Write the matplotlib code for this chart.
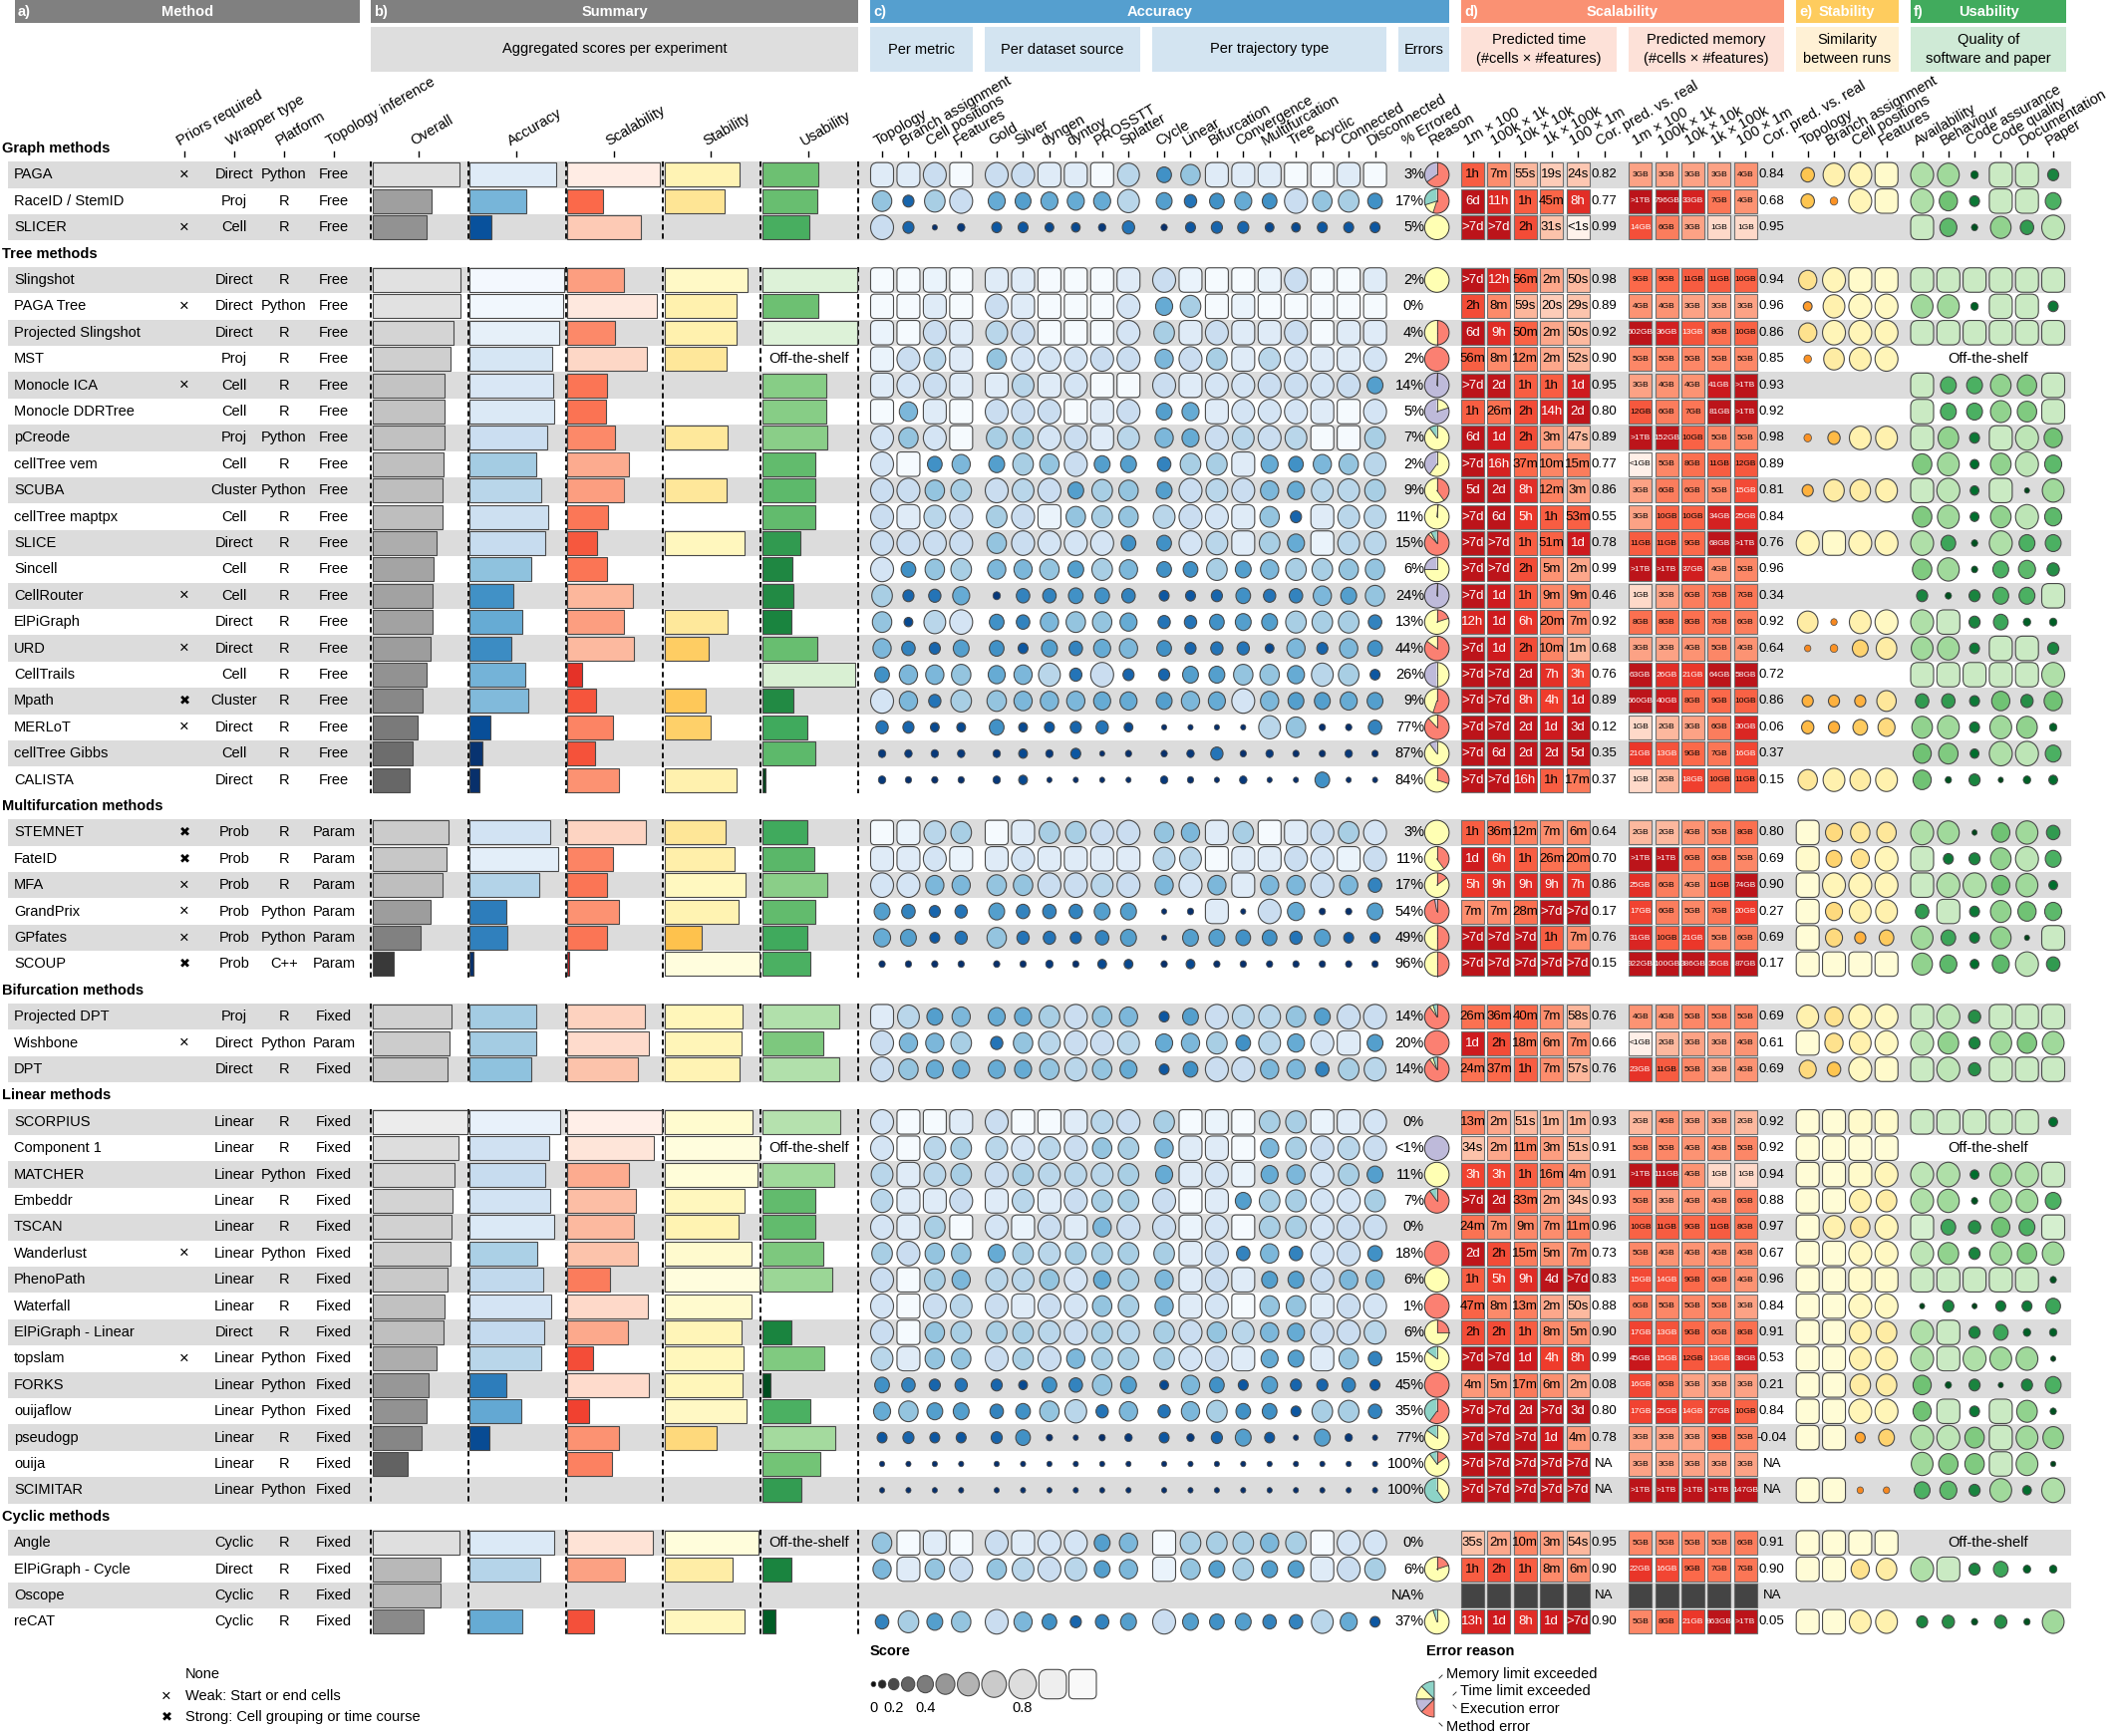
import numpy as np
import matplotlib
matplotlib.use("Agg")
import matplotlib.pyplot as plt
from matplotlib.patches import Rectangle, Ellipse, FancyBboxPatch, Wedge

plt.rcParams['font.family'] = ['Liberation Sans', 'DejaVu Sans']

# ---------------- data ----------------
group_names = ["Graph methods", "Tree methods", "Multifurcation methods",
               "Bifurcation methods", "Linear methods", "Cyclic methods"]
group_sizes = [3, 20, 6, 3, 15, 4]

methods = ["PAGA", "RaceID / StemID", "SLICER",
           "Slingshot", "PAGA Tree", "Projected Slingshot", "MST", "Monocle ICA",
           "Monocle DDRTree", "pCreode", "cellTree vem", "SCUBA", "cellTree maptpx",
           "SLICE", "Sincell", "CellRouter", "ElPiGraph", "URD", "CellTrails", "Mpath",
           "MERLoT", "cellTree Gibbs", "CALISTA",
           "STEMNET", "FateID", "MFA", "GrandPrix", "GPfates", "SCOUP",
           "Projected DPT", "Wishbone", "DPT",
           "SCORPIUS", "Component 1", "MATCHER", "Embeddr", "TSCAN", "Wanderlust",
           "PhenoPath", "Waterfall", "ElPiGraph - Linear", "topslam", "FORKS",
           "ouijaflow", "pseudogp", "ouija", "SCIMITAR",
           "Angle", "ElPiGraph - Cycle", "Oscope", "reCAT"]

# "" none, "w" weak, "s" strong
priors = ["w", "", "w",
          "", "w", "", "", "w", "", "", "", "", "", "", "", "w", "", "w", "", "s", "w", "", "",
          "s", "s", "w", "w", "w", "s",
          "", "w", "",
          "", "", "", "", "", "w", "", "", "", "w", "", "", "", "", "",
          "", "", "", ""]
wrappers = ["Direct", "Proj", "Cell",
            "Direct", "Direct", "Direct", "Proj", "Cell", "Cell", "Proj", "Cell", "Cluster",
            "Cell", "Direct", "Cell", "Cell", "Direct", "Direct", "Cell", "Cluster", "Direct",
            "Cell", "Direct",
            "Prob", "Prob", "Prob", "Prob", "Prob", "Prob",
            "Proj", "Direct", "Direct",
            "Linear", "Linear", "Linear", "Linear", "Linear", "Linear", "Linear", "Linear",
            "Direct", "Linear", "Linear", "Linear", "Linear", "Linear", "Linear",
            "Cyclic", "Direct", "Cyclic", "Cyclic"]
platforms = ["Python", "R", "R",
             "R", "Python", "R", "R", "R", "R", "Python", "R", "Python", "R", "R", "R", "R",
             "R", "R", "R", "R", "R", "R", "R",
             "R", "R", "R", "Python", "Python", "C++",
             "R", "Python", "R",
             "R", "R", "Python", "R", "R", "Python", "R", "R", "R", "Python", "Python",
             "Python", "R", "R", "Python",
             "R", "R", "R", "R"]
topology = (["Free"] * 23 + ["Param"] * 6 + ["Fixed", "Param", "Fixed"] + ["Fixed"] * 15
            + ["Fixed"] * 4)

# summary scores (None = missing, "off" = off-the-shelf)
sum_overall = [0.91, 0.62, 0.57,
               0.92, 0.92, 0.85, 0.82, 0.76, 0.76, 0.75, 0.74, 0.73, 0.73, 0.67, 0.64, 0.63,
               0.63, 0.61, 0.57, 0.53, 0.47, 0.42, 0.39,
               0.80, 0.78, 0.73, 0.61, 0.50, 0.22,
               0.83, 0.81, 0.79,
               0.99, 0.90, 0.86, 0.84, 0.83, 0.82, 0.79, 0.75, 0.74, 0.67, 0.59, 0.57, 0.52,
               0.37, None,
               0.91, 0.71, 0.71, 0.54]
sum_accuracy = [0.90, 0.59, 0.23,
                0.99, 0.98, 0.93, 0.86, 0.87, 0.88, 0.81, 0.69, 0.75, 0.82, 0.79, 0.64, 0.45,
                0.55, 0.43, 0.58, 0.61, 0.22, 0.13, 0.10,
                0.84, 0.92, 0.73, 0.38, 0.39, 0.04,
                0.69, 0.69, 0.64,
                0.94, 0.83, 0.79, 0.84, 0.88, 0.71, 0.77, 0.85, 0.78, 0.75, 0.38, 0.54, 0.21,
                None, None,
                0.88, 0.74, None, 0.55]
sum_scalability = [0.97, 0.37, 0.77,
                   0.59, 0.94, 0.50, 0.83, 0.42, 0.41, 0.50, 0.64, 0.59, 0.43, 0.31, 0.42,
                   0.69, 0.59, 0.70, 0.16, 0.30, 0.48, 0.29, 0.54,
                   0.82, 0.48, 0.42, 0.54, 0.42, 0.02,
                   0.81, 0.85, 0.74,
                   0.99, 0.91, 0.64, 0.72, 0.70, 0.74, 0.45, 0.84, 0.63, 0.27, 0.85, 0.23,
                   0.54, 0.47, None,
                   0.89, 0.60, None, 0.28]
sum_stability = [0.78, 0.63, None,
                 0.87, 0.75, 0.75, 0.65, None, None, 0.66, None, 0.65, None, 0.83, None,
                 None, 0.66, 0.46, None, 0.43, 0.48, None, 0.75,
                 0.64, 0.73, 0.84, 0.77, 0.39, 0.99,
                 0.81, 0.80, 0.78,
                 0.92, 0.99, 0.97, 0.83, 0.77, 0.91, 0.99, 0.91, 0.80, 0.82, 0.81, 0.86,
                 0.54, None, None,
                 0.98, 0.71, None, 0.83]
sum_usability = [0.59, 0.58, 0.49,
                 0.99, 0.59, 0.99, "off", 0.67, 0.67, 0.68, 0.56, 0.55, 0.56, 0.40, 0.32,
                 0.33, 0.30, 0.58, 0.97, 0.33, 0.47, 0.55, 0.03,
                 0.47, 0.54, 0.68, 0.56, 0.47, 0.50,
                 0.81, 0.64, 0.81,
                 0.82, "off", 0.75, 0.56, 0.56, 0.64, 0.73, 0.0, 0.30, 0.65, 0.09, 0.50,
                 0.76, 0.61, 0.41,
                 "off", 0.30, None, 0.14]

# accuracy per metric: topology, branch assignment, cell positions, features
acc_metric = [[0.9, 0.9, 0.8, 1.0], [0.65, 0.3, 0.7, 0.8], [0.8, 0.3, 0.05, 0.15],
              [1.0, 1.0, 0.95, 1.0], [1.0, 1.0, 0.9, 1.0], [0.95, 1.0, 0.8, 0.9],
              [0.95, 0.8, 0.75, 0.9], [0.9, 0.85, 0.8, 0.9], [1.0, 0.6, 0.9, 1.0],
              [0.85, 0.65, 0.85, 1.0], [0.85, 1.0, 0.45, 0.6], [0.8, 0.8, 0.65, 0.7],
              [0.8, 0.9, 0.75, 0.8], [0.8, 0.8, 0.8, 0.8], [0.85, 0.45, 0.65, 0.7],
              [0.7, 0.3, 0.35, 0.55], [0.65, 0.2, 0.75, 0.85], [0.6, 0.4, 0.3, 0.5],
              [0.45, 0.6, 0.6, 0.65], [0.85, 0.6, 0.35, 0.7], [0.35, 0.3, 0.2, 0.2],
              [0.15, 0.15, 0.15, 0.15], [0.15, 0.1, 0.1, 0.1],
              [1.0, 0.95, 0.75, 0.7], [0.9, 0.9, 0.85, 0.95], [0.85, 0.85, 0.6, 0.6],
              [0.5, 0.4, 0.3, 0.35], [0.55, 0.5, 0.25, 0.35], [0.1, 0.1, 0.1, 0.1],
              [0.9, 0.75, 0.5, 0.6], [0.8, 0.6, 0.6, 0.7], [0.8, 0.65, 0.55, 0.55],
              [0.85, 1.0, 1.0, 0.9], [0.85, 1.0, 0.75, 0.7], [0.75, 0.9, 0.75, 0.7],
              [0.75, 0.9, 0.9, 0.8], [0.85, 0.9, 0.7, 1.0], [0.7, 0.8, 0.65, 0.65],
              [0.8, 1.0, 0.7, 0.6], [0.85, 1.0, 0.8, 0.75], [0.8, 1.0, 0.65, 0.7],
              [0.75, 0.9, 0.65, 0.65], [0.45, 0.4, 0.3, 0.35], [0.55, 0.65, 0.5, 0.5],
              [0.25, 0.3, 0.25, 0.25], [0.05, 0.05, 0.05, 0.05], [0.05, 0.05, 0.05, 0.05],
              [0.65, 1.0, 0.9, 1.0], [0.6, 0.9, 0.65, 0.8], None, [0.4, 0.7, 0.5, 0.65]]

# accuracy per dataset source: gold, silver, dyngen, dyntoy, PROSSTT, Splatter
acc_source = [[0.8, 0.8, 0.9, 0.9, 1.0, 0.75], [0.55, 0.5, 0.55, 0.55, 0.55, 0.75],
              [0.25, 0.25, 0.2, 0.2, 0.15, 0.35],
              [0.9, 0.9, 1.0, 1.0, 1.0, 0.9], [0.8, 0.9, 1.0, 1.0, 1.0, 0.85],
              [0.75, 0.8, 1.0, 1.0, 1.0, 0.85], [0.65, 0.85, 0.85, 0.85, 0.8, 0.8],
              [0.9, 0.75, 0.9, 0.85, 1.0, 1.0], [0.8, 0.8, 0.8, 1.0, 0.9, 0.8],
              [0.7, 0.7, 0.85, 0.8, 0.9, 0.75], [0.5, 0.7, 0.65, 0.8, 0.5, 0.5],
              [0.8, 0.75, 0.8, 0.5, 0.7, 0.65], [0.7, 0.8, 0.95, 0.65, 0.7, 0.65],
              [0.65, 0.8, 0.85, 0.85, 0.85, 0.45], [0.6, 0.6, 0.65, 0.5, 0.7, 0.6],
              [0.15, 0.4, 0.4, 0.45, 0.45, 0.4], [0.45, 0.4, 0.6, 0.65, 0.65, 0.55],
              [0.45, 0.25, 0.5, 0.4, 0.55, 0.6], [0.55, 0.6, 0.75, 0.35, 0.8, 0.3],
              [0.65, 0.6, 0.6, 0.6, 0.55, 0.55], [0.45, 0.2, 0.25, 0.3, 0.35, 0.2],
              [0.15, 0.2, 0.15, 0.25, 0.05, 0.1], [0.15, 0.2, 0.05, 0.05, 0.05, 0.05],
              [1.0, 0.9, 0.7, 0.7, 0.8, 0.8], [0.9, 0.85, 0.9, 0.9, 0.9, 0.9],
              [0.65, 0.65, 0.8, 0.8, 0.75, 0.8], [0.5, 0.4, 0.4, 0.4, 0.5, 0.5],
              [0.65, 0.35, 0.35, 0.3, 0.4, 0.5], [0.1, 0.1, 0.15, 0.1, 0.2, 0.2],
              [0.55, 0.55, 0.7, 0.8, 0.65, 0.6], [0.35, 0.65, 0.75, 0.8, 0.8, 0.75],
              [0.55, 0.55, 0.65, 0.75, 0.65, 0.55],
              [0.8, 1.0, 1.0, 0.9, 0.75, 0.8], [0.75, 0.85, 0.75, 0.8, 0.65, 0.7],
              [0.8, 0.7, 0.75, 0.75, 0.75, 0.7], [0.9, 0.75, 0.9, 0.8, 0.7, 0.7],
              [0.85, 0.95, 0.8, 0.9, 0.6, 0.8], [0.55, 0.7, 0.75, 0.7, 0.7, 0.7],
              [0.75, 0.75, 0.65, 0.85, 0.55, 0.7], [0.8, 0.9, 0.8, 0.85, 0.65, 0.7],
              [0.7, 0.7, 0.75, 0.8, 0.7, 0.75], [0.8, 0.7, 0.8, 0.6, 0.7, 0.7],
              [0.3, 0.2, 0.45, 0.4, 0.65, 0.5], [0.4, 0.45, 0.65, 0.75, 0.35, 0.6],
              [0.3, 0.45, 0.1, 0.05, 0.1, 0.15], [0.05] * 6, [0.05] * 6,
              [0.8, 0.9, 0.85, 0.85, 0.5, 0.6], [0.65, 0.75, 0.8, 0.75, 0.5, 0.6], None,
              [0.8, 0.6, 0.45, 0.3, 0.4, 0.5]]

# accuracy per trajectory type
acc_traj = [[0.45, 0.65, 0.9, 0.9, 0.9, 1.0, 1.0, 0.9, 1.0],
            [0.5, 0.35, 0.45, 0.55, 0.45, 0.8, 0.65, 0.7, 0.45],
            [0.1, 0.25, 0.3, 0.3, 0.2, 0.2, 0.25, 0.25, 0.25],
            [0.8, 0.95, 1.0, 1.0, 0.95, 0.8, 1.0, 1.0, 0.9],
            [0.55, 0.7, 1.0, 0.95, 1.0, 1.0, 1.0, 1.0, 1.0],
            [0.7, 0.9, 0.8, 0.9, 0.9, 0.8, 1.0, 0.9, 0.9],
            [0.6, 0.8, 0.7, 0.9, 0.75, 0.85, 0.9, 0.9, 0.85],
            [0.8, 0.9, 0.85, 0.85, 0.8, 0.8, 0.85, 0.8, 0.5],
            [0.5, 0.55, 0.9, 0.85, 0.85, 0.85, 0.9, 1.0, 0.85],
            [0.6, 0.55, 0.8, 0.75, 0.8, 0.75, 1.0, 1.0, 0.7],
            [0.4, 0.7, 0.7, 0.9, 0.55, 0.45, 0.6, 0.65, 0.75],
            [0.5, 0.8, 0.75, 0.8, 0.6, 0.55, 0.75, 0.75, 0.7],
            [0.75, 0.8, 0.85, 0.9, 0.65, 0.3, 0.9, 0.75, 0.75],
            [0.45, 0.85, 0.75, 0.9, 0.7, 0.55, 0.95, 0.75, 0.75],
            [0.45, 0.45, 0.7, 0.5, 0.6, 0.7, 0.7, 0.65, 0.65],
            [0.25, 0.25, 0.3, 0.45, 0.35, 0.4, 0.6, 0.5, 0.65],
            [0.35, 0.35, 0.45, 0.5, 0.5, 0.7, 0.7, 0.7, 0.4],
            [0.45, 0.3, 0.35, 0.35, 0.2, 0.6, 0.3, 0.6, 0.45],
            [0.3, 0.5, 0.5, 0.65, 0.65, 0.55, 0.75, 0.7, 0.25],
            [0.5, 0.6, 0.55, 0.85, 0.6, 0.5, 0.5, 0.55, 0.5],
            [0.05, 0.05, 0.05, 0.05, 0.75, 0.65, 0.1, 0.1, 0.4],
            [0.1, 0.15, 0.35, 0.1, 0.15, 0.1, 0.1, 0.15, 0.1],
            [0.15, 0.1, 0.05, 0.15, 0.05, 0.05, 0.45, 0.05, 0.05],
            [0.65, 0.6, 0.9, 0.7, 1.0, 0.9, 0.8, 0.7, 0.85],
            [0.75, 0.75, 1.0, 0.9, 0.9, 0.8, 0.85, 0.95, 0.8],
            [0.6, 0.85, 0.6, 0.9, 0.6, 0.6, 0.8, 0.6, 0.4],
            [0.05, 0.1, 0.9, 0.05, 0.8, 0.55, 0.1, 0.1, 0.5],
            [0.05, 0.5, 0.5, 0.45, 0.45, 0.35, 0.5, 0.25, 0.25],
            [0.1, 0.2, 0.1, 0.1, 0.1, 0.1, 0.1, 0.1, 0.1],
            [0.25, 0.5, 0.8, 0.75, 0.75, 0.65, 0.5, 0.8, 0.8],
            [0.55, 0.6, 0.7, 0.45, 0.75, 0.55, 0.85, 0.9, 0.5],
            [0.25, 0.45, 0.8, 0.8, 0.6, 0.6, 0.4, 0.7, 0.75],
            [0.7, 1.0, 0.95, 1.0, 0.7, 0.7, 0.95, 0.9, 0.85],
            [0.6, 0.9, 0.9, 1.0, 0.6, 0.7, 0.8, 0.75, 0.8],
            [0.55, 0.9, 0.85, 0.95, 0.55, 0.6, 0.85, 0.7, 0.5],
            [0.8, 1.0, 0.9, 0.5, 0.7, 0.7, 0.85, 0.85, 0.7],
            [0.8, 0.95, 0.85, 1.0, 0.7, 0.7, 0.85, 0.8, 0.8],
            [0.7, 0.9, 0.8, 0.4, 0.6, 0.4, 0.85, 0.8, 0.45],
            [0.6, 0.9, 0.8, 0.9, 0.5, 0.5, 0.8, 0.6, 0.6],
            [0.6, 0.9, 0.85, 1.0, 0.65, 0.65, 0.9, 0.8, 0.85],
            [0.7, 0.8, 0.65, 0.75, 0.6, 0.55, 0.8, 0.8, 0.75],
            [0.7, 0.85, 0.8, 0.9, 0.55, 0.5, 0.9, 0.65, 0.4],
            [0.2, 0.6, 0.45, 0.25, 0.5, 0.3, 0.3, 0.4, 0.25],
            [0.35, 0.6, 0.7, 0.45, 0.45, 0.25, 0.7, 0.7, 0.4],
            [0.25, 0.15, 0.3, 0.5, 0.25, 0.05, 0.5, 0.15, 0.05],
            [0.05] * 9, [0.05] * 9,
            [1.0, 0.7, 0.7, 0.7, 0.6, 0.7, 1.0, 0.85, 0.85],
            [0.95, 0.65, 0.5, 0.7, 0.5, 0.5, 0.9, 0.8, 0.7],
            None,
            [0.8, 0.5, 0.45, 0.5, 0.4, 0.4, 0.75, 0.55, 0.25]]

pct_errored = ["3%", "17%", "5%",
               "2%", "0%", "4%", "2%", "14%", "5%", "7%", "2%", "9%", "11%", "15%", "6%",
               "24%", "13%", "44%", "26%", "9%", "77%", "87%", "84%",
               "3%", "11%", "17%", "54%", "49%", "96%",
               "14%", "20%", "14%",
               "0%", "<1%", "11%", "7%", "0%", "18%", "6%", "1%", "6%", "15%", "45%", "35%",
               "77%", "100%", "100%",
               "0%", "6%", "NA%", "37%"]

# error reason fractions: method error, time limit, execution error, memory limit
error_reason = [(0.65, 0, 0.35, 0), (0.55, 0.15, 0, 0.3), (0, 1, 0, 0),
                (0, 1, 0, 0), None, (0.5, 0.5, 0, 0), (1, 0, 0, 0), (0.01, 0, 0.99, 0),
                (0, 0.2, 0.8, 0), (0, 0.9, 0, 0.1), (0, 0.6, 0.4, 0), (0.4, 0.6, 0, 0),
                (0.02, 0.98, 0, 0), (0.88, 0.04, 0, 0.08), (0, 0.75, 0.25, 0),
                (0.01, 0, 0.99, 0), (0.2, 0.8, 0, 0), (0.85, 0.15, 0, 0), (0, 0.5, 0.5, 0),
                (0.55, 0.45, 0, 0), (0.88, 0.12, 0, 0), (0, 0.9, 0.1, 0), (0.3, 0.7, 0, 0),
                (0, 1, 0, 0), (0.4, 0.6, 0, 0), (0.15, 0.85, 0, 0), (0.97, 0, 0.03, 0),
                (0.5, 0.5, 0, 0), (0.5, 0.5, 0, 0),
                (0.9, 0.05, 0, 0.05), (1, 0, 0, 0), (0.9, 0.05, 0, 0.05),
                None, (0, 0, 1, 0), (0, 1, 0, 0), (0.9, 0, 0, 0.1), None, (1, 0, 0, 0),
                (0, 1, 0, 0), (1, 0, 0, 0), (0.25, 0.75, 0, 0), (0, 0.85, 0, 0.15),
                (1, 0, 0, 0), (0.6, 0, 0, 0.4), (0, 0.85, 0, 0.15), (0.15, 0.75, 0, 0.1),
                (0, 0.4, 0, 0.6),
                None, (0.2, 0.8, 0, 0), None, (0, 0.95, 0, 0.05)]

# predicted time / memory for 1m x 100, 100k x 1k, 10k x 10k, 1k x 100k, 100 x 1m
time_pred = [["1h", "7m", "55s", "19s", "24s"], ["6d", "11h", "1h", "45m", "8h"],
             [">7d", ">7d", "2h", "31s", "<1s"],
             [">7d", "12h", "56m", "2m", "50s"], ["2h", "8m", "59s", "20s", "29s"],
             ["6d", "9h", "50m", "2m", "50s"], ["56m", "8m", "12m", "2m", "52s"],
             [">7d", "2d", "1h", "1h", "1d"], ["1h", "26m", "2h", "14h", "2d"],
             ["6d", "1d", "2h", "3m", "47s"], [">7d", "16h", "37m", "10m", "15m"],
             ["5d", "2d", "8h", "12m", "3m"], [">7d", "6d", "5h", "1h", "53m"],
             [">7d", ">7d", "1h", "51m", "1d"], [">7d", ">7d", "2h", "5m", "2m"],
             [">7d", "1d", "1h", "9m", "9m"], ["12h", "1d", "6h", "20m", "7m"],
             [">7d", "1d", "2h", "10m", "1m"], [">7d", ">7d", "2d", "7h", "3h"],
             [">7d", ">7d", "8h", "4h", "1d"], [">7d", ">7d", "2d", "1d", "3d"],
             [">7d", "6d", "2d", "2d", "5d"], [">7d", ">7d", "16h", "1h", "17m"],
             ["1h", "36m", "12m", "7m", "6m"], ["1d", "6h", "1h", "26m", "20m"],
             ["5h", "9h", "9h", "9h", "7h"], ["7m", "7m", "28m", ">7d", ">7d"],
             [">7d", ">7d", ">7d", "1h", "7m"], [">7d", ">7d", ">7d", ">7d", ">7d"],
             ["26m", "36m", "40m", "7m", "58s"], ["1d", "2h", "18m", "6m", "7m"],
             ["24m", "37m", "1h", "7m", "57s"],
             ["13m", "2m", "51s", "1m", "1m"], ["34s", "2m", "11m", "3m", "51s"],
             ["3h", "3h", "1h", "16m", "4m"], [">7d", "2d", "33m", "2m", "34s"],
             ["24m", "7m", "9m", "7m", "11m"], ["2d", "2h", "15m", "5m", "7m"],
             ["1h", "5h", "9h", "4d", ">7d"], ["47m", "8m", "13m", "2m", "50s"],
             ["2h", "2h", "1h", "8m", "5m"], [">7d", ">7d", "1d", "4h", "8h"],
             ["4m", "5m", "17m", "6m", "2m"], [">7d", ">7d", "2d", ">7d", "3d"],
             [">7d", ">7d", ">7d", "1d", "4m"], [">7d", ">7d", ">7d", ">7d", ">7d"],
             [">7d", ">7d", ">7d", ">7d", ">7d"],
             ["35s", "2m", "10m", "3m", "54s"], ["1h", "2h", "1h", "8m", "6m"], None,
             ["13h", "1d", "8h", "1d", ">7d"]]
time_cor = ["0.82", "0.77", "0.99",
            "0.98", "0.89", "0.92", "0.90", "0.95", "0.80", "0.89", "0.77", "0.86", "0.55",
            "0.78", "0.99", "0.46", "0.92", "0.68", "0.76", "0.89", "0.12", "0.35", "0.37",
            "0.64", "0.70", "0.86", "0.17", "0.76", "0.15",
            "0.76", "0.66", "0.76",
            "0.93", "0.91", "0.91", "0.93", "0.96", "0.73", "0.83", "0.88", "0.90", "0.99",
            "0.08", "0.80", "0.78", "NA", "NA",
            "0.95", "0.90", "NA", "0.90"]
mem_pred = [["3GB", "3GB", "3GB", "3GB", "4GB"], [">1TB", "796GB", "33GB", "7GB", "4GB"],
            ["14GB", "6GB", "3GB", "1GB", "1GB"],
            ["9GB", "9GB", "11GB", "11GB", "10GB"], ["4GB", "4GB", "3GB", "3GB", "3GB"],
            ["602GB", "36GB", "13GB", "8GB", "10GB"], ["5GB", "5GB", "5GB", "5GB", "5GB"],
            ["3GB", "4GB", "4GB", "41GB", ">1TB"], ["12GB", "6GB", "7GB", "81GB", ">1TB"],
            [">1TB", "152GB", "10GB", "5GB", "5GB"], ["<1GB", "5GB", "8GB", "11GB", "12GB"],
            ["3GB", "6GB", "6GB", "5GB", "15GB"], ["3GB", "10GB", "10GB", "34GB", "25GB"],
            ["11GB", "11GB", "9GB", "68GB", ">1TB"], [">1TB", ">1TB", "37GB", "4GB", "5GB"],
            ["1GB", "3GB", "6GB", "7GB", "7GB"], ["8GB", "8GB", "8GB", "7GB", "6GB"],
            ["3GB", "3GB", "4GB", "5GB", "4GB"], ["63GB", "26GB", "21GB", "64GB", "58GB"],
            ["660GB", "40GB", "8GB", "9GB", "10GB"], ["1GB", "2GB", "3GB", "6GB", "30GB"],
            ["21GB", "13GB", "9GB", "7GB", "16GB"], ["1GB", "2GB", "18GB", "10GB", "11GB"],
            ["2GB", "2GB", "4GB", "5GB", "8GB"], [">1TB", ">1TB", "6GB", "6GB", "5GB"],
            ["25GB", "6GB", "4GB", "11GB", "74GB"], ["17GB", "6GB", "5GB", "7GB", "20GB"],
            ["31GB", "10GB", "21GB", "5GB", "6GB"],
            ["922GB", "100GB", "386GB", "35GB", "87GB"],
            ["4GB", "4GB", "5GB", "5GB", "5GB"], ["<1GB", "2GB", "3GB", "3GB", "4GB"],
            ["23GB", "11GB", "5GB", "3GB", "4GB"],
            ["2GB", "4GB", "3GB", "3GB", "2GB"], ["5GB", "5GB", "4GB", "4GB", "5GB"],
            [">1TB", "111GB", "4GB", "1GB", "1GB"], ["5GB", "3GB", "4GB", "4GB", "6GB"],
            ["10GB", "11GB", "9GB", "11GB", "8GB"], ["5GB", "4GB", "4GB", "4GB", "4GB"],
            ["15GB", "14GB", "9GB", "6GB", "4GB"], ["6GB", "5GB", "5GB", "5GB", "3GB"],
            ["17GB", "13GB", "9GB", "6GB", "8GB"], ["45GB", "15GB", "12GB", "13GB", "38GB"],
            ["16GB", "6GB", "3GB", "3GB", "3GB"], ["17GB", "25GB", "14GB", "27GB", "10GB"],
            ["3GB", "3GB", "3GB", "9GB", "5GB"], ["3GB", "3GB", "3GB", "3GB", "3GB"],
            [">1TB", ">1TB", ">1TB", ">1TB", "147GB"],
            ["5GB", "5GB", "5GB", "5GB", "6GB"], ["22GB", "16GB", "9GB", "7GB", "7GB"], None,
            ["5GB", "8GB", "21GB", "863GB", ">1TB"]]
mem_cor = ["0.84", "0.68", "0.95",
           "0.94", "0.96", "0.86", "0.85", "0.93", "0.92", "0.98", "0.89", "0.81", "0.84",
           "0.76", "0.96", "0.34", "0.92", "0.64", "0.72", "0.86", "0.06", "0.37", "0.15",
           "0.80", "0.69", "0.90", "0.27", "0.69", "0.17",
           "0.69", "0.61", "0.69",
           "0.92", "0.92", "0.94", "0.88", "0.97", "0.67", "0.96", "0.84", "0.91", "0.53",
           "0.21", "0.84", "-0.04", "NA", "NA",
           "0.91", "0.90", "NA", "0.05"]

# stability: topology, branch assignment, cell positions, features
stab_detail = [[0.4, 0.75, 0.8, 0.9], [0.4, 0.15, 0.8, 0.9], None,
               [0.6, 0.8, 0.9, 0.9], [0.2, 0.75, 0.85, 0.85], [0.6, 0.8, 0.8, 0.8],
               [0.15, 0.7, 0.75, 0.8], None, None, [0.15, 0.35, 0.75, 0.75], None,
               [0.3, 0.7, 0.7, 0.75], None, [0.8, 0.9, 0.8, 0.8], None, None,
               [0.7, 0.1, 0.75, 0.85], [0.1, 0.15, 0.5, 0.7], None, [0.3, 0.3, 0.3, 0.65],
               [0.35, 0.3, 0.45, 0.55], None, [0.65, 0.75, 0.7, 0.75],
               [0.95, 0.55, 0.65, 0.65], [0.9, 0.5, 0.6, 0.8], [0.95, 0.8, 0.8, 0.8],
               [0.95, 0.55, 0.75, 0.75], [0.95, 0.55, 0.3, 0.45], [0.95, 0.95, 0.95, 0.95],
               [0.75, 0.6, 0.8, 0.85], [0.95, 0.6, 0.75, 0.85], [0.55, 0.4, 0.85, 0.9],
               [0.95, 0.95, 0.9, 0.9], [0.95, 0.95, 0.95, 0.95], [0.95, 0.95, 0.9, 0.8],
               [0.95, 0.95, 0.75, 0.7], [0.95, 0.75, 0.65, 0.8], [0.95, 0.95, 0.85, 0.85],
               [0.95, 0.95, 0.9, 0.9], [0.95, 0.95, 0.85, 0.85], [0.95, 0.95, 0.75, 0.7],
               [0.95, 0.95, 0.75, 0.75], [0.95, 0.95, 0.7, 0.7], [0.95, 0.95, 0.8, 0.8],
               [0.95, 0.95, 0.25, 0.5], None, [0.95, 0.95, 0.1, 0.1],
               [0.95, 0.95, 0.95, 0.95], [0.95, 0.95, 0.6, 0.7], None,
               [0.95, 0.95, 0.75, 0.75]]

# usability: availability, behaviour, code assurance, code quality, documentation, paper
usab_detail = [[0.8, 0.75, 0.15, 0.9, 0.9, 0.3], [0.8, 0.6, 0.25, 0.9, 0.9, 0.5],
               [0.9, 0.55, 0.1, 0.7, 0.4, 0.85],
               [0.9] * 6, [0.75, 0.75, 0.15, 0.9, 0.9, 0.25], [0.9] * 6, "off",
               [0.9, 0.5, 0.5, 0.7, 0.65, 0.9], [0.9, 0.5, 0.5, 0.7, 0.65, 0.9],
               [0.9, 0.7, 0.25, 0.9, 0.85, 0.6], [0.65, 0.75, 0.2, 0.7, 0.85, 0.55],
               [0.9, 0.85, 0.2, 0.9, 0.05, 0.75], [0.65, 0.75, 0.2, 0.7, 0.85, 0.55],
               [0.8, 0.45, 0.1, 0.8, 0.5, 0.5], [0.65, 0.75, 0.1, 0.5, 0.55, 0.35],
               [0.3, 0.1, 0.3, 0.5, 0.5, 0.9], [0.8, 0.9, 0.3, 0.45, 0.15, 0.15],
               [0.75, 0.75, 0.25, 0.9, 0.9, 0.3], [0.9, 0.9, 0.9, 0.9, 0.9, 0.8],
               [0.4, 0.4, 0.25, 0.6, 0.35, 0.6], [0.7, 0.75, 0.25, 0.75, 0.7, 0.15],
               [0.6, 0.65, 0.2, 0.8, 0.85, 0.5], [0.6, 0.1, 0.3, 0.05, 0.15, 0.2],
               [0.8, 0.75, 0.05, 0.6, 0.75, 0.4], [0.9, 0.25, 0.3, 0.7, 0.85, 0.5],
               [0.9, 0.8, 0.8, 0.6, 0.75, 0.2], [0.4, 0.9, 0.25, 0.7, 0.6, 0.55],
               [0.75, 0.45, 0.25, 0.7, 0.05, 0.9], [0.7, 0.55, 0.2, 0.55, 0.85, 0.4],
               [0.9, 0.85, 0.35, 0.9, 0.9, 0.9], [0.85, 0.7, 0.3, 0.75, 0.65, 0.75],
               [0.9, 0.85, 0.35, 0.9, 0.9, 0.9],
               [0.9, 0.9, 0.9, 0.9, 0.9, 0.2], "off", [0.85, 0.8, 0.2, 0.75, 0.8, 0.9],
               [0.8, 0.75, 0.1, 0.75, 0.75, 0.5], [0.95, 0.45, 0.35, 0.6, 0.5, 0.95],
               [0.85, 0.7, 0.3, 0.75, 0.65, 0.75], [0.9, 0.9, 0.9, 0.9, 0.9, 0.1],
               [0.05, 0.3, 0.05, 0.25, 0.25, 0.45], [0.8, 0.9, 0.3, 0.45, 0.15, 0.15],
               [0.8, 0.9, 0.8, 0.75, 0.75, 0.05], [0.6, 0.1, 0.3, 0.05, 0.3, 0.5],
               [0.6, 0.9, 0.25, 0.9, 0.7, 0.1], [0.8, 0.85, 0.65, 0.9, 0.75, 0.7],
               [0.75, 0.65, 0.65, 0.9, 0.75, 0.05], [0.5, 0.55, 0.3, 0.75, 0.2, 0.8],
               "off", [0.8, 0.9, 0.3, 0.45, 0.15, 0.15], None,
               [0.3, 0.35, 0.1, 0.35, 0.1, 0.75]]

method_cols = ["Priors required", "Wrapper type", "Platform", "Topology inference"]
summary_cols = ["Overall", "Accuracy", "Scalability", "Stability", "Usability"]
metric_cols = ["Topology", "Branch assignment", "Cell positions", "Features"]
source_cols = ["Gold", "Silver", "dyngen", "dyntoy", "PROSSTT", "Splatter"]
traj_cols = ["Cycle", "Linear", "Bifurcation", "Convergence", "Multifurcation", "Tree",
             "Acyclic", "Connected", "Disconnected"]
scal_cols = ["1m \u00d7 100", "100k \u00d7 1k", "10k \u00d7 10k", "1k \u00d7 100k",
             "100 \u00d7 1m", "Cor. pred. vs. real"]
usab_cols = ["Availability", "Behaviour", "Code assurance", "Code quality",
             "Documentation", "Paper"]
error_labels = ["Memory limit exceeded", "Time limit exceeded", "Execution error",
                "Method error"]

# ---------------- layout ----------------
W, H = 2122, 1742
ROW0, STEP = 149, 26.4
BAND_X0, BAND_X1 = 8, 2078
METHOD_X = [185, 235, 285, 335]
SUM_X0, SUM_DX, BAR_W = 372, 97.8, 96
CELL = 26.45
METRIC_X0, SOURCE_X0, TRAJ_X0 = 885, 1000, 1168
ERR_TXT_X, PIE_X = 1429, 1441.6
TIME_X0, MEM_X0, SC_DX = 1477.5, 1645.7, 26.4
STAB_X0, USAB_X0 = 1813.7, 1928.5
FS = 10.5

ERR_COLORS = ["#FB8072", "#FFFFB3", "#BEBADA", "#8DD3C7"]  # method, time, exec, memory
EDGE = "#4a4a4a"

fig = plt.figure(figsize=(W / 100, H / 100), dpi=100)
ax = fig.add_axes([0, 0, 1, 1])
ax.set_xlim(0, W)
ax.set_ylim(H, 0)
ax.axis("off")


def cmap_val(name, a, b):
    cm = plt.get_cmap(name)
    return lambda v: cm(float(np.clip(a - b * v, 0, 1)))


col_grey = cmap_val("Greys", 1.01, 0.87)
col_blue = cmap_val("Blues", 1.13, 1.12)
col_red = cmap_val("Reds", 0.78, 0.75)
col_yel = cmap_val("YlOrBr", 0.61, 0.59)
col_green = cmap_val("Greens", 1.05, 0.9)


def glyph(x, y, v, colfn, scale=1.0):
    if v is None:
        return
    c = colfn(v)
    if v > 0.87:
        w, h = 23 * scale, 24.5 * scale
        r = (8 - (v - 0.87) / 0.13 * 4) * scale
        ax.add_patch(FancyBboxPatch((x - w / 2, y - h / 2), w, h,
                                    boxstyle=f"round,pad=0,rounding_size={r}",
                                    fc=c, ec=EDGE, lw=0.8, zorder=3))
    else:
        d = (4 + 19 * min(v, 0.8) / 0.8) * scale
        ax.add_patch(Ellipse((x, y), d, d * 1.07, fc=c, ec=EDGE,
                             lw=0.8 if d > 8 else 0.5, zorder=3))


def to_seconds(s):
    if s.startswith(">"):
        return 7 * 86400 * 1.5
    if s.startswith("<"):
        return 0.5
    mult = {"s": 1, "m": 60, "h": 3600, "d": 86400}[s[-1]]
    return float(s[:-1]) * mult


def to_gb(s):
    if s.startswith(">"):
        return 2000.0
    if s.startswith("<"):
        return 0.5
    if s.endswith("TB"):
        return float(s[:-2]) * 1000
    return float(s[:-2])


# row positions
row_y, group_y, group_rows = [], [], []
line = 0
idx = 0
for gname, n in zip(group_names, group_sizes):
    group_y.append(ROW0 + line * STEP)
    line += 1
    rows = []
    for k in range(n):
        row_y.append(ROW0 + line * STEP)
        rows.append(idx)
        idx += 1
        line += 1
    group_rows.append(rows)

# bands, group titles, dashed separators
for gi, rows in enumerate(group_rows):
    ax.text(2, group_y[gi], group_names[gi], fontsize=FS, fontweight="bold",
            va="center", ha="left")
    for k, i in enumerate(rows):
        if k % 2 == 0:
            ax.add_patch(Rectangle((BAND_X0, row_y[i] - STEP / 2), BAND_X1 - BAND_X0, STEP,
                                   fc="#DCDCDC", lw=0, zorder=0))
    ytop = row_y[rows[0]] - STEP / 2
    ybot = row_y[rows[-1]] + STEP / 2
    for j in range(6):
        x = SUM_X0 + j * SUM_DX
        ax.plot([x, x], [ytop, ybot], color="black", lw=1.3, ls=(0, (3, 2)), zorder=2)

# ---------------- header bars ----------------
headers = [("a)", "Method", 15, 361, "#808080"),
           ("b)", "Summary", 372, 861, "#808080"),
           ("c)", "Accuracy", 873, 1454, "#559FCF"),
           ("d)", "Scalability", 1466, 1790, "#FA9173"),
           ("e)", "Stability", 1802, 1904.5, "#FECC5E"),
           ("f)", "Usability", 1917, 2073, "#41AB5D")]
for tag, title, x0, x1, c in headers:
    ax.add_patch(Rectangle((x0, 0), x1 - x0, 23.5, fc=c, lw=0))
    ax.text(x0 + 3, 12, tag, color="white", fontsize=FS, fontweight="bold",
            ha="left", va="center")
    ax.text((x0 + x1) / 2, 12, title, color="white", fontsize=FS, fontweight="bold",
            ha="center", va="center")

subheaders = [("Aggregated scores per experiment", 372, 861, "#DEDEDE"),
              ("Per metric", 873, 976, "#D3E4F1"),
              ("Per dataset source", 988, 1144, "#D3E4F1"),
              ("Per trajectory type", 1156, 1391, "#D3E4F1"),
              ("Errors", 1402.5, 1454, "#D3E4F1"),
              ("Predicted time\n(#cells \u00d7 #features)", 1466, 1622, "#FDE1D8"),
              ("Predicted memory\n(#cells \u00d7 #features)", 1634, 1790, "#FDE1D8"),
              ("Similarity\nbetween runs", 1802, 1904.5, "#FFF1D5"),
              ("Quality of\nsoftware and paper", 1917, 2073, "#CFEAD6")]
for txt, x0, x1, c in subheaders:
    ax.add_patch(Rectangle((x0, 27), x1 - x0, 45, fc=c, lw=0))
    ax.text((x0 + x1) / 2, 49.5, txt, fontsize=FS, ha="center", va="center",
            linespacing=1.45)

# ---------------- column labels ----------------
col_labels = list(zip(METHOD_X, method_cols))
col_labels += [(SUM_X0 + j * SUM_DX + 48, s) for j, s in enumerate(summary_cols)]
col_labels += [(METRIC_X0 + k * CELL, s) for k, s in enumerate(metric_cols)]
col_labels += [(SOURCE_X0 + k * CELL, s) for k, s in enumerate(source_cols)]
col_labels += [(TRAJ_X0 + k * CELL, s) for k, s in enumerate(traj_cols)]
col_labels += [(1415, "% Errored"), (PIE_X, "Reason")]
col_labels += [(TIME_X0 + k * SC_DX, s) for k, s in enumerate(scal_cols)]
col_labels += [(MEM_X0 + k * SC_DX, s) for k, s in enumerate(scal_cols)]
col_labels += [(STAB_X0 + k * 26.35, s) for k, s in enumerate(metric_cols)]
col_labels += [(USAB_X0 + k * 26.3, s) for k, s in enumerate(usab_cols)]
for x, s in col_labels:
    ax.plot([x, x], [152, 157.5], color="black", lw=1)
    ax.text(x - 5, 146, s, rotation=30, rotation_mode="anchor", ha="left",
            va="baseline", fontsize=FS)

# ---------------- rows ----------------
prior_sym = {"": "", "w": "\u00d7", "s": "\u2716"}
sum_lists = [(sum_overall, col_grey), (sum_accuracy, col_blue), (sum_scalability, col_red),
             (sum_stability, col_yel), (sum_usability, col_green)]

for i, name in enumerate(methods):
    y = row_y[i]
    ax.text(14, y, name, fontsize=FS, ha="left", va="center")
    if priors[i] == "s":
        ax.text(METHOD_X[0], y, prior_sym["s"], fontsize=9.5, ha="center", va="center",
                family=["DejaVu Sans"])
    elif priors[i] == "w":
        ax.text(METHOD_X[0], y, prior_sym["w"], fontsize=12, ha="center", va="center")
    for x, s in zip(METHOD_X[1:], [wrappers[i], platforms[i], topology[i]]):
        ax.text(x, y, s, fontsize=FS, ha="center", va="center")

    # summary bars
    for j, (vals, cf) in enumerate(sum_lists):
        v = vals[i]
        x0 = SUM_X0 + j * SUM_DX + 1.5
        if v is None:
            continue
        if v == "off":
            ax.text(x0 + 47, y, "Off-the-shelf", fontsize=FS, ha="center", va="center")
            continue
        if v * BAR_W < 0.5:
            continue
        ax.add_patch(Rectangle((x0, y - 12), v * BAR_W, 24, fc=cf(v), ec=EDGE, lw=0.8,
                               zorder=3))

    # accuracy glyphs
    for vals, xs0 in [(acc_metric[i], METRIC_X0), (acc_source[i], SOURCE_X0),
                      (acc_traj[i], TRAJ_X0)]:
        if vals is None:
            continue
        for k, v in enumerate(vals):
            glyph(xs0 + k * CELL, y, v, col_blue)

    ax.text(ERR_TXT_X, y, pct_errored[i], fontsize=FS, ha="right", va="center")
    fr = error_reason[i]
    if fr is not None:
        start = -90.0
        for f, c in zip(fr, ERR_COLORS):
            if f > 0:
                ax.add_patch(Wedge((PIE_X, y), 12.3, start, start + 360 * f, fc=c,
                                   ec="none", zorder=3))
                if 0 < f < 1:
                    a = np.deg2rad(start)
                    ax.plot([PIE_X, PIE_X + 12.3 * np.cos(a)], [y, y + 12.3 * np.sin(a)],
                            color="#333333", lw=0.6, zorder=4)
            start += 360 * f
        ax.add_patch(Ellipse((PIE_X, y), 24.6, 24.6, fc="none", ec="#333333", lw=0.7,
                             zorder=4))

    # scalability cells
    for preds, cor, xs0, kind in [(time_pred[i], time_cor[i], TIME_X0, "t"),
                                  (mem_pred[i], mem_cor[i], MEM_X0, "m")]:
        for k in range(5):
            x = xs0 + k * SC_DX
            if preds is None:
                ax.add_patch(Rectangle((x - 11.5, y - 12), 23, 24, fc="#444444",
                                       ec="#666666", lw=0.8, zorder=3))
                continue
            s = preds[k]
            if kind == "t":
                t = min(0.15 * np.log10(to_seconds(s)), 0.8)
                fs, white = 9.5, t >= 0.6
            else:
                t = min(0.15 + 0.37 * np.log10(to_gb(s)), 0.8)
                fs, white = 6, t >= 0.55
            t = max(t, 0.02)
            ax.add_patch(Rectangle((x - 11.5, y - 12), 23, 24, fc=plt.cm.Reds(t),
                                   ec="#707070", lw=0.8, zorder=3))
            ax.text(x, y, s, fontsize=fs, ha="center", va="center", zorder=4,
                    color="white" if white else "black")
        ax.text(xs0 + 5 * SC_DX, y, cor, fontsize=9.5, ha="center", va="center")

    # stability
    if stab_detail[i] is not None:
        for k, v in enumerate(stab_detail[i]):
            glyph(STAB_X0 + k * 26.35, y, v, col_yel)

    # usability
    ud = usab_detail[i]
    if ud == "off":
        ax.text(USAB_X0 + 2.5 * 26.3, y, "Off-the-shelf", fontsize=FS, ha="center",
                va="center")
    elif ud is not None:
        for k, v in enumerate(ud):
            glyph(USAB_X0 + k * 26.3, y, v, col_green)

# ---------------- legends ----------------
ax.text(186, 1680, "None", fontsize=FS, ha="left", va="center")
ax.text(167, 1702, "\u00d7", fontsize=12, ha="center", va="center")
ax.text(186, 1702, "Weak: Start or end cells", fontsize=FS, ha="left", va="center")
ax.text(167, 1723, "\u2716", fontsize=9.5, ha="center", va="center",
        family=["DejaVu Sans"])
ax.text(186, 1723, "Strong: Cell grouping or time course", fontsize=FS, ha="left",
        va="center")

ax.text(873, 1657, "Score", fontsize=FS, fontweight="bold", ha="left", va="center")
legend_scores = [0.0, 0.1, 0.2, 0.3, 0.4, 0.5, 0.6, 0.7, 0.8, 0.9, 1.0]
legend_labels = {0.0: "0", 0.2: "0.2", 0.4: "0.4", 0.8: "0.8"}
sc = 1.2
xcur = 874
for v in legend_scores:
    w = (23 if v > 0.87 else 4 + 19 * min(v, 0.8) / 0.8) * sc
    xc = xcur + w / 2
    glyph(xc, 1690, v if v < 0.85 else (0.9 if v < 0.95 else 1.0),
          cmap_val("Greys", 0.95, 0.9), scale=sc)
    if v in legend_labels:
        ax.text(xc, 1714, legend_labels[v], fontsize=FS, ha="center", va="center")
    xcur += w + 2.5

ax.text(1431, 1657, "Error reason", fontsize=FS, fontweight="bold", ha="left",
        va="center")
pc = (1439, 1705)
spans = [(90, 135, ERR_COLORS[3]), (135, 180, ERR_COLORS[1]),
         (180, 225, ERR_COLORS[2]), (225, 270, ERR_COLORS[0])]
for a0, a1, c in spans:
    ax.add_patch(Wedge(pc, 18, -a1, -a0, fc=c, ec="#333333", lw=0.6))
label_pos = [(1451, 1680), (1465, 1697), (1465, 1715), (1451, 1733)]
for (a0, a1, c), (lx, ly), lab in zip(spans, label_pos, error_labels):
    ax.text(lx, ly, lab, fontsize=FS, ha="left", va="center")
    ax.plot([lx - 7, lx - 4], [ly + (4 if ly < pc[1] else -4), ly + (1 if ly < pc[1] else -1)],
            color="#333333", lw=0.7)

fig.savefig("out.png", dpi=100)
